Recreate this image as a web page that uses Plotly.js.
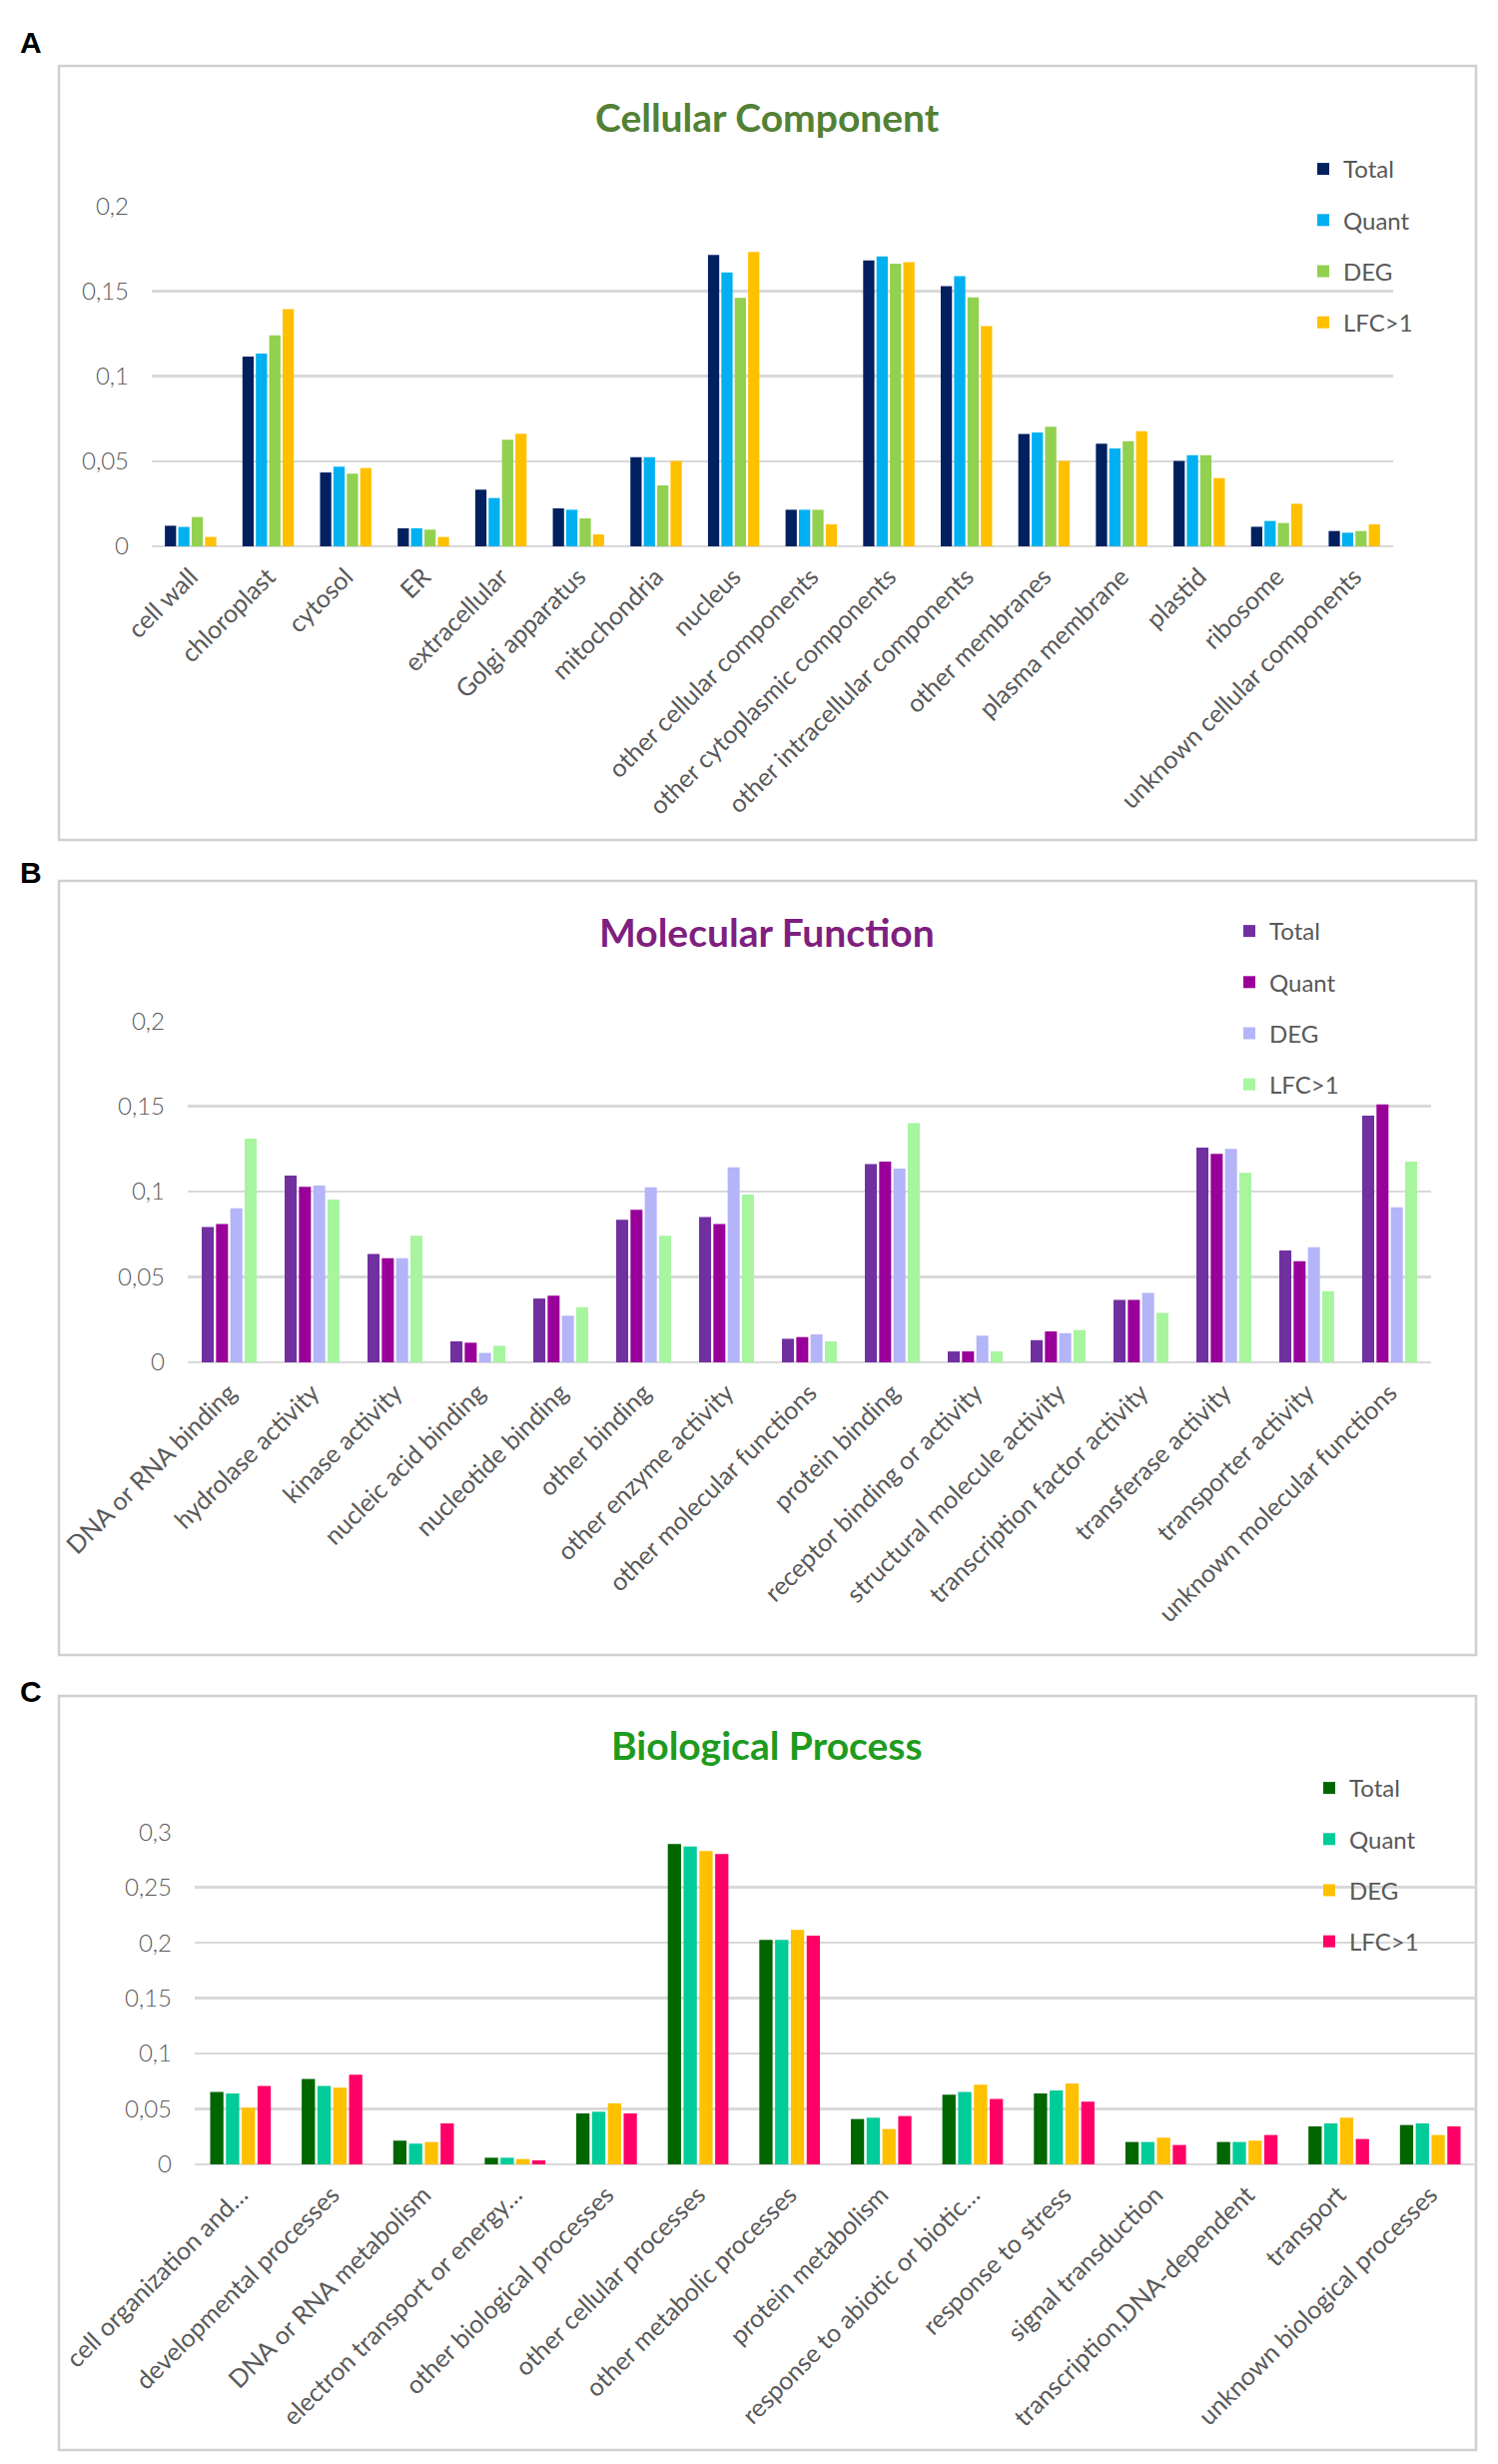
<!DOCTYPE html>
<html>
<head>
<meta charset="utf-8">
<script src="https://cdn.plot.ly/plotly-3.0.1.min.js"></script>
<style>html,body{margin:0;padding:0;background:#fff;}#chart{width:1500px;height:2467px;}</style>
</head>
<body>
<div id="chart"></div>
<script>
// ---------- DATA ----------
var seriesNames = ["Total", "Quant", "DEG", "LFC>1"];

var ccCategories = ["cell wall", "chloroplast", "cytosol", "ER", "extracellular", "Golgi apparatus", "mitochondria", "nucleus", "other cellular components", "other cytoplasmic components", "other intracellular components", "other membranes", "plasma membrane", "plastid", "ribosome", "unknown cellular components"];
var ccTotal = [0.0121, 0.1115, 0.0434, 0.0106, 0.0333, 0.0223, 0.0524, 0.1712, 0.0215, 0.1679, 0.1528, 0.0660, 0.0603, 0.0501, 0.0115, 0.0090];
var ccQuant = [0.0114, 0.1133, 0.0468, 0.0106, 0.0284, 0.0215, 0.0524, 0.1610, 0.0215, 0.1703, 0.1587, 0.0669, 0.0575, 0.0536, 0.0149, 0.0080];
var ccDEG   = [0.0172, 0.1240, 0.0427, 0.0098, 0.0626, 0.0164, 0.0358, 0.1460, 0.0215, 0.1661, 0.1462, 0.0702, 0.0618, 0.0536, 0.0137, 0.0090];
var ccLFC   = [0.0055, 0.1393, 0.0460, 0.0055, 0.0661, 0.0070, 0.0501, 0.1730, 0.0129, 0.1669, 0.1294, 0.0501, 0.0677, 0.0401, 0.0250, 0.0129];

var mfCategories = ["DNA or RNA binding", "hydrolase activity", "kinase activity", "nucleic acid binding", "nucleotide binding", "other binding", "other enzyme activity", "other molecular functions", "protein binding", "receptor binding or activity", "structural molecule activity", "transcription factor activity", "transferase activity", "transporter activity", "unknown molecular functions"];
var mfTotal = [0.0793, 0.1094, 0.0635, 0.0123, 0.0374, 0.0835, 0.0851, 0.0138, 0.1161, 0.0064, 0.0130, 0.0366, 0.1258, 0.0656, 0.1445];
var mfQuant = [0.0810, 0.1028, 0.0610, 0.0115, 0.0391, 0.0894, 0.0810, 0.0148, 0.1176, 0.0064, 0.0181, 0.0366, 0.1221, 0.0592, 0.1511];
var mfDEG   = [0.0902, 0.1036, 0.0610, 0.0055, 0.0273, 0.1026, 0.1143, 0.0164, 0.1135, 0.0156, 0.0171, 0.0407, 0.1250, 0.0674, 0.0909];
var mfLFC   = [0.1310, 0.0954, 0.0742, 0.0097, 0.0323, 0.0742, 0.0983, 0.0123, 0.1402, 0.0064, 0.0189, 0.0290, 0.1110, 0.0417, 0.1176];

var bpCategories = ["cell organization and\u2026", "developmental processes", "DNA or RNA metabolism", "electron transport or energy\u2026", "other biological processes", "other cellular processes", "other metabolic processes", "protein metabolism", "response to abiotic or biotic\u2026", "response to stress", "signal transduction", "transcription,DNA-dependent", "transport", "unknown biological processes"];
var bpTotal = [0.0653, 0.0770, 0.0214, 0.0060, 0.0460, 0.2892, 0.2025, 0.0409, 0.0629, 0.0641, 0.0202, 0.0202, 0.0343, 0.0355];
var bpQuant = [0.0641, 0.0707, 0.0187, 0.0060, 0.0475, 0.2868, 0.2025, 0.0421, 0.0653, 0.0668, 0.0202, 0.0202, 0.0370, 0.0370];
var bpDEG   = [0.0512, 0.0692, 0.0202, 0.0048, 0.0551, 0.2829, 0.2115, 0.0319, 0.0719, 0.0731, 0.0241, 0.0214, 0.0421, 0.0265];
var bpLFC   = [0.0707, 0.0809, 0.0370, 0.0036, 0.0460, 0.2801, 0.2064, 0.0436, 0.0590, 0.0566, 0.0175, 0.0265, 0.0229, 0.0343];

// ---------- STYLE / LAYOUT HELPERS ----------
var W = 1500, H = 2467;
function px(x) { return x / W; }
function py(y) { return 1 - y / H; }

var ccColors = ["#002060", "#00B0F0", "#92D050", "#FFC000"];
var mfColors = ["#7030A0", "#990099", "#B4B4F8", "#A8F5A0"];
var bpColors = ["#006600", "#00CC99", "#FFC000", "#FF0066"];

var FONT = "Lato, 'Open Sans', sans-serif";
var GRAY = "#595959";
var GRID = "#d9d9d9";

var traces = [];
function addPanel(cats, vals, colors, xa, ya, leg) {
  for (var i = 0; i < vals.length; i++) {
    traces.push({
      type: "bar",
      x: cats,
      y: vals[i],
      name: seriesNames[i],
      xaxis: xa, yaxis: ya,
      legend: leg,
      legendgroup: leg + i,
      marker: {color: colors[i], line: {width: 0}},
      hoverinfo: "x+y+name"
    });
  }
}
addPanel(ccCategories, [ccTotal, ccQuant, ccDEG, ccLFC], ccColors, "x", "y", "legend");
addPanel(mfCategories, [mfTotal, mfQuant, mfDEG, mfLFC], mfColors, "x2", "y2", "legend2");
addPanel(bpCategories, [bpTotal, bpQuant, bpDEG, bpLFC], bpColors, "x3", "y3", "legend3");

function xaxis(x0, x1, anchor) {
  return {
    domain: [px(x0), px(x1)], anchor: anchor,
    tickangle: -45, showgrid: false, zeroline: false, showline: false,
    ticks: "", ticklabelstandoff: 10,
    tickfont: {family: FONT, size: 25, color: GRAY, weight: 400},
    fixedrange: true
  };
}
function yaxis(ytop, ybot, anchor, maxv) {
  return {
    domain: [py(ybot), py(ytop)], anchor: anchor,
    range: [0, maxv * 1.0005], dtick: 0.05, tick0: 0,
    showgrid: true, gridcolor: GRID, gridwidth: 2.5,
    zeroline: true, zerolinecolor: GRID, zerolinewidth: 2.5,
    showline: false, ticks: "", ticklabelstandoff: 22,
    tickfont: {family: FONT, size: 24, color: GRAY, weight: 300},
    fixedrange: true
  };
}

function legend(xl, ytop) {
  return {
    x: px(xl), y: py(ytop), xanchor: "left", yanchor: "top",
    orientation: "v", bgcolor: "rgba(0,0,0,0)", borderwidth: 0,
    tracegroupgap: 17,
    font: {family: FONT, size: 24, color: GRAY, weight: 400},
    itemclick: false, itemdoubleclick: false
  };
}

function border(x0, y0, x1, y1) {
  return {type: "rect", xref: "paper", yref: "paper",
    x0: px(x0), x1: px(x1), y0: py(y1), y1: py(y0),
    line: {color: "#d0d0d0", width: 2.5}, fillcolor: "rgba(0,0,0,0)", layer: "below"};
}
function title(text, color, y) {
  return {text: "<b>" + text + "</b>", xref: "paper", yref: "paper",
    x: px(768), y: py(y), xanchor: "center", yanchor: "middle", showarrow: false,
    font: {family: FONT, size: 39, color: color}};
}
function panelLabel(text, y) {
  return {text: "<b>" + text + "</b>", xref: "paper", yref: "paper",
    x: px(31), y: py(y), xanchor: "center", yanchor: "middle", showarrow: false,
    font: {family: "'Liberation Sans', Arial, sans-serif", size: 30, color: "#000"}};
}

var layout = {
  width: W, height: H,
  margin: {l: 0, r: 0, t: 0, b: 0},
  paper_bgcolor: "#fff", plot_bgcolor: "rgba(0,0,0,0)",
  separators: ",.",
  barmode: "group", bargap: 0.31, bargroupgap: 0.16,
  showlegend: true,
  xaxis: xaxis(152, 1395, "y"),
  yaxis: yaxis(206, 547, "x", 0.2),
  xaxis2: xaxis(188, 1433, "y2"),
  yaxis2: yaxis(1022, 1364, "x2", 0.2),
  xaxis3: xaxis(195, 1478, "y3"),
  yaxis3: yaxis(1834, 2167, "x3", 0.3),
  legend: legend(1305, 147),
  legend2: legend(1231, 910),
  legend3: legend(1311, 1768),
  shapes: [border(59, 66, 1478, 841), border(59, 882, 1478, 1657), border(59, 1698, 1478, 2453)],
  annotations: [
    panelLabel("A", 43), panelLabel("B", 873), panelLabel("C", 1693),
    title("Cellular Component", "#538135", 117),
    title("Molecular Function", "#7F1F7F", 933),
    title("Biological Process", "#1E9B1E", 1747)
  ]
};

Plotly.newPlot("chart", traces, layout, {staticPlot: true, displayModeBar: false});
</script>
</body>
</html>
